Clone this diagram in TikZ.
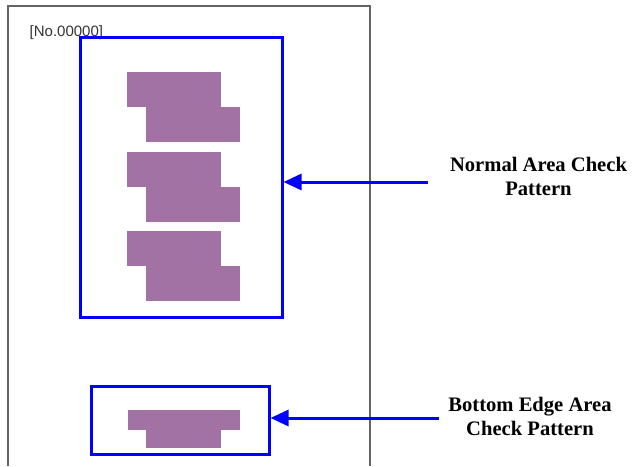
\documentclass[tikz,border=0pt]{standalone}
\usepackage{fontspec}
\setmainfont{Liberation Serif}
\newfontfamily\numfont{Liberation Sans}
\usetikzlibrary{arrows.meta}
\definecolor{pblue}{RGB}{0,0,255}
\definecolor{ppurple}{RGB}{162,114,164}
\definecolor{pgray}{RGB}{100,100,100}
\tikzset{
  bluebox/.style={draw=pblue, line width=3pt, rectangle, inner sep=0pt, outer sep=0pt},
  blk/.style={fill=ppurple},
  arr/.style={draw=pblue, line width=3pt, -{Triangle[length=18pt,width=16pt]}},
  lbl/.style={font=\bfseries\fontsize{20.6}{24.5}\selectfont, align=center, inner sep=0pt},
  page/.style={draw=pgray, line width=1.3pt}
}
\begin{document}
\begin{tikzpicture}[x=1pt,y=-1pt]
\useasboundingbox (0,0) rectangle (634,466);
% page
\draw[page] (8,466) -- (8,6) -- (370,6) -- (370,466);
\node[anchor=west, inner sep=0pt, text=black!80, font=\numfont\fontsize{15}{17}\selectfont] (num) at (29.5,33) {[No.00000]};
% pattern blocks
\foreach \yy in {72,152,231}{
  \fill[blk] (127,\yy) rectangle (221,\yy+35);
  \fill[blk] (146,\yy+35) rectangle (240,\yy+70);
}
\fill[blk] (128,410) rectangle (240,430);
\fill[blk] (146,430) rectangle (221,448);
% boxes
\node[bluebox, minimum width=202pt, minimum height=280pt] (nbox) at (181,177) {};
\node[bluebox, minimum width=178pt, minimum height=68pt] (bbox) at (180,420) {};
% labels
\node[lbl] (nlbl) at (538.5,176.5) {Normal Area Check\\Pattern};
\node[lbl] (blbl) at (530,416.5) {Bottom Edge Area\\Check Pattern};
\coordinate (a1) at (428,182);
\coordinate (a2) at (439,418);
\draw[arr] (a1) -- ([xshift=1.5pt]nbox.east |- a1);
\draw[arr] (a2) -- ([xshift=1.5pt]bbox.east |- a2);
\end{tikzpicture}
\end{document}
